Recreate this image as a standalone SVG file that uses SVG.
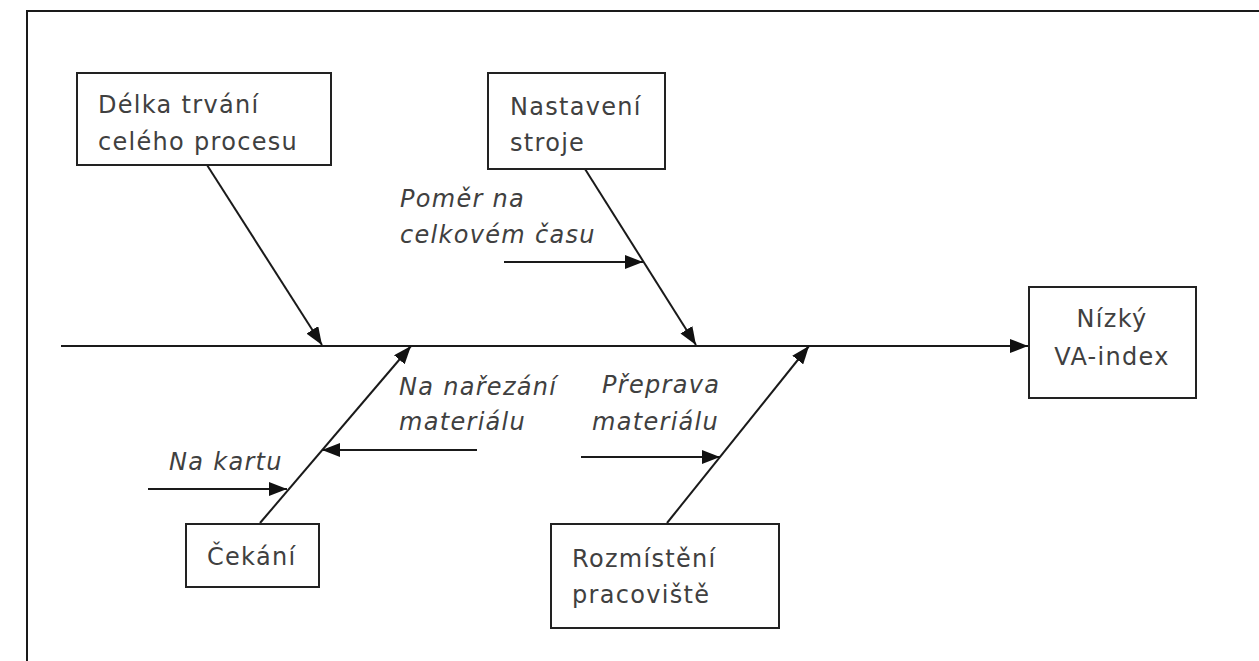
<svg xmlns="http://www.w3.org/2000/svg" width="1259" height="661" viewBox="0 0 1259 661">
<defs>
<marker id="ah" markerWidth="18" markerHeight="14" refX="18" refY="7" orient="auto" markerUnits="userSpaceOnUse">
<path d="M0,0 L18,7 L0,14 Z" fill="#111"/>
</marker>
<style>
.box{fill:#fff;stroke:#222;stroke-width:2}
.t{font-family:"DejaVu Sans",sans-serif;font-size:24px;letter-spacing:1.3px;fill:#404040}
.i{font-style:italic}
.c{stroke:#1a1a1a;stroke-width:2;fill:none}
</style>
</defs>
<rect width="1259" height="661" fill="#fff"/>
<path d="M27,680 L27,11 L1280,11" class="c"/>
<g id="connectors">
<line x1="61" y1="346" x2="1028" y2="346" class="c" marker-end="url(#ah)"/>
<line x1="207" y1="165" x2="322" y2="345" class="c" marker-end="url(#ah)"/>
<line x1="585" y1="169" x2="696" y2="345" class="c" marker-end="url(#ah)"/>
<line x1="260" y1="523" x2="411" y2="346" class="c" marker-end="url(#ah)"/>
<line x1="667" y1="523" x2="809" y2="346" class="c" marker-end="url(#ah)"/>
<line x1="504" y1="262" x2="643" y2="262" class="c" marker-end="url(#ah)"/>
<line x1="477" y1="450" x2="322" y2="450" class="c" marker-end="url(#ah)"/>
<line x1="148" y1="489" x2="287" y2="489" class="c" marker-end="url(#ah)"/>
<line x1="581" y1="457" x2="720" y2="457" class="c" marker-end="url(#ah)"/>
</g>
<g id="delka">
<rect x="77" y="73" width="254" height="92" class="box"/>
<text class="t" x="98" y="113">Délka trvání</text>
<text class="t" x="98" y="150">celého procesu</text>
</g>
<g id="nastaveni">
<rect x="488" y="73" width="177" height="96" class="box"/>
<text class="t" x="510" y="115">Nastavení</text>
<text class="t" x="510" y="151">stroje</text>
</g>
<g id="pomer">
<text class="t i" x="400" y="207">Poměr na</text>
<text class="t i" x="400" y="243">celkovém času</text>
</g>
<g id="nizky">
<rect x="1029" y="287" width="167" height="111" class="box"/>
<text class="t" x="1112" y="327" text-anchor="middle">Nízký</text>
<text class="t" x="1112" y="365" text-anchor="middle">VA-index</text>
</g>
<g id="narezani">
<text class="t i" x="399" y="395">Na nařezání</text>
<text class="t i" x="399" y="430">materiálu</text>
</g>
<g id="nakartu">
<text class="t i" x="169" y="470">Na kartu</text>
</g>
<g id="preprava">
<text class="t i" x="602" y="393">Přeprava</text>
<text class="t i" x="592" y="430">materiálu</text>
</g>
<g id="cekani">
<rect x="186" y="524" width="133" height="63" class="box"/>
<text class="t" x="207" y="565">Čekání</text>
</g>
<g id="rozmisteni">
<rect x="551" y="524" width="228" height="104" class="box"/>
<text class="t" x="572" y="567">Rozmístění</text>
<text class="t" x="572" y="603">pracoviště</text>
</g>
</svg>
